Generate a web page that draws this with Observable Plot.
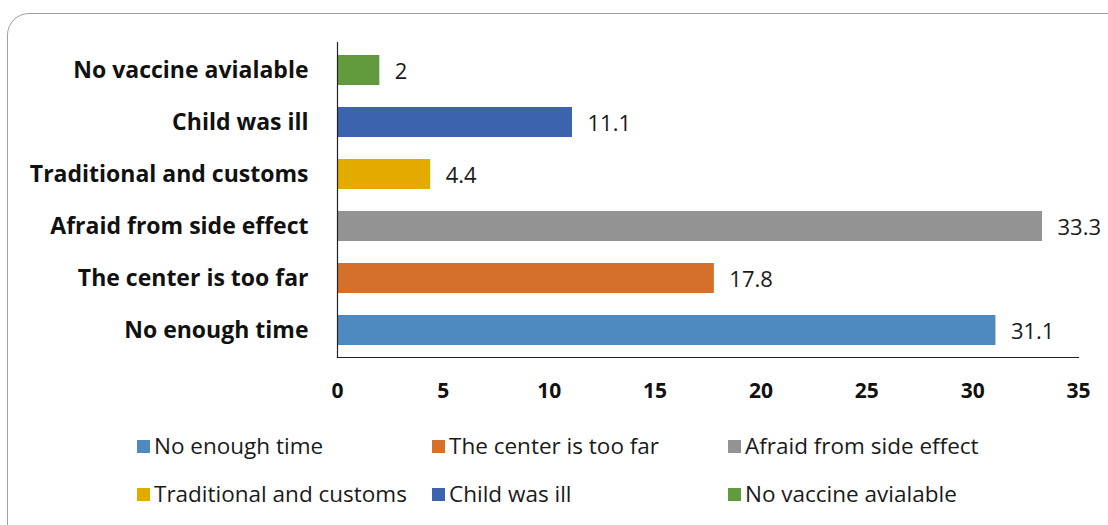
<!DOCTYPE html>
<html>
<head>
<meta charset="utf-8">
<script src="https://cdn.jsdelivr.net/npm/d3@7"></script>
<script src="https://cdn.jsdelivr.net/npm/@observablehq/plot@0.6"></script>
<style>
  html, body { margin: 0; padding: 0; background: #fff; }
  #wrap { position: relative; width: 1108px; height: 525px; overflow: hidden; font-family: "Open Sans", sans-serif; }
  #border { position: absolute; left: 7px; top: 13px; width: 1130px; height: 540px; border: 1.5px solid #a0a0a0; border-radius: 22px; box-sizing: border-box; }
  #chart { position: absolute; left: 0; top: 0; }
  #legend { position: absolute; left: 0; top: 0; width: 1108px; }
  .li { position: absolute; display: flex; align-items: center; font-size: 22.5px; color: #1a1a1a; white-space: nowrap; line-height: 1; }
  .sw { width: 13px; height: 13px; margin-right: 4px; }
</style>
</head>
<body>
<div id="wrap">
  <div id="border"></div>
  <div id="chart"></div>
  <div id="legend"></div>
</div>
<script>
const categories = ["No enough time", "The center is too far", "Afraid from side effect", "Traditional and customs", "Child was ill", "No vaccine avialable"];
const values = [31.1, 17.8, 33.3, 4.4, 11.1, 2];
const colors = ["#4E8AC0", "#D4702C", "#939393", "#E3AB00", "#3C63AD", "#629B3D"];
const xTicks = [0, 5, 10, 15, 20, 25, 30, 35];

const data = categories.map((c, i) => ({category: c, value: values[i]}));
const yOrder = categories.slice().reverse();

const chart = Plot.plot({
  width: 1108,
  height: 420,
  marginLeft: 337,
  marginRight: 30,
  marginTop: 42,
  marginBottom: 63,
  style: {fontFamily: "'Open Sans', sans-serif", background: "transparent"},
  x: {domain: [0, 35], ticks: xTicks, label: null},
  y: {domain: yOrder, paddingInner: 0.43, paddingOuter: 0.215, label: null},
  color: {domain: categories, range: colors},
  marks: [
    Plot.barX(data, {x: "value", y: "category", fill: "category"}),
    Plot.text(data, {x: "value", y: "category", text: d => String(d.value), textAnchor: "start", dx: 15, dy: 1, fontSize: 22, fill: "#1a1a1a"}),
    Plot.axisX({ticks: xTicks, tickSize: 0, tickPadding: 26, fontSize: 21, fontWeight: "bold", fill: "#111", label: null}),
    Plot.axisY({tickSize: 0, tickPadding: 29, fontSize: 23, fontWeight: "bold", fill: "#111", label: null}),
    Plot.frame({anchor: "left", stroke: "#222", strokeWidth: 1.2}),
    Plot.frame({anchor: "bottom", stroke: "#222", strokeWidth: 1.2})
  ]
});
document.getElementById("chart").appendChild(chart);

const legendPos = [
  [137, 447], [432, 447], [728, 447],
  [137, 495], [432, 495], [728, 495]
];
const legend = document.getElementById("legend");
categories.forEach((c, i) => {
  const el = document.createElement("div");
  el.className = "li";
  el.style.left = legendPos[i][0] + "px";
  el.style.top = (legendPos[i][1] - 12) + "px";
  el.innerHTML = `<span class="sw" style="background:${colors[i]}"></span><span>${c}</span>`;
  legend.appendChild(el);
});
</script>
</body>
</html>
